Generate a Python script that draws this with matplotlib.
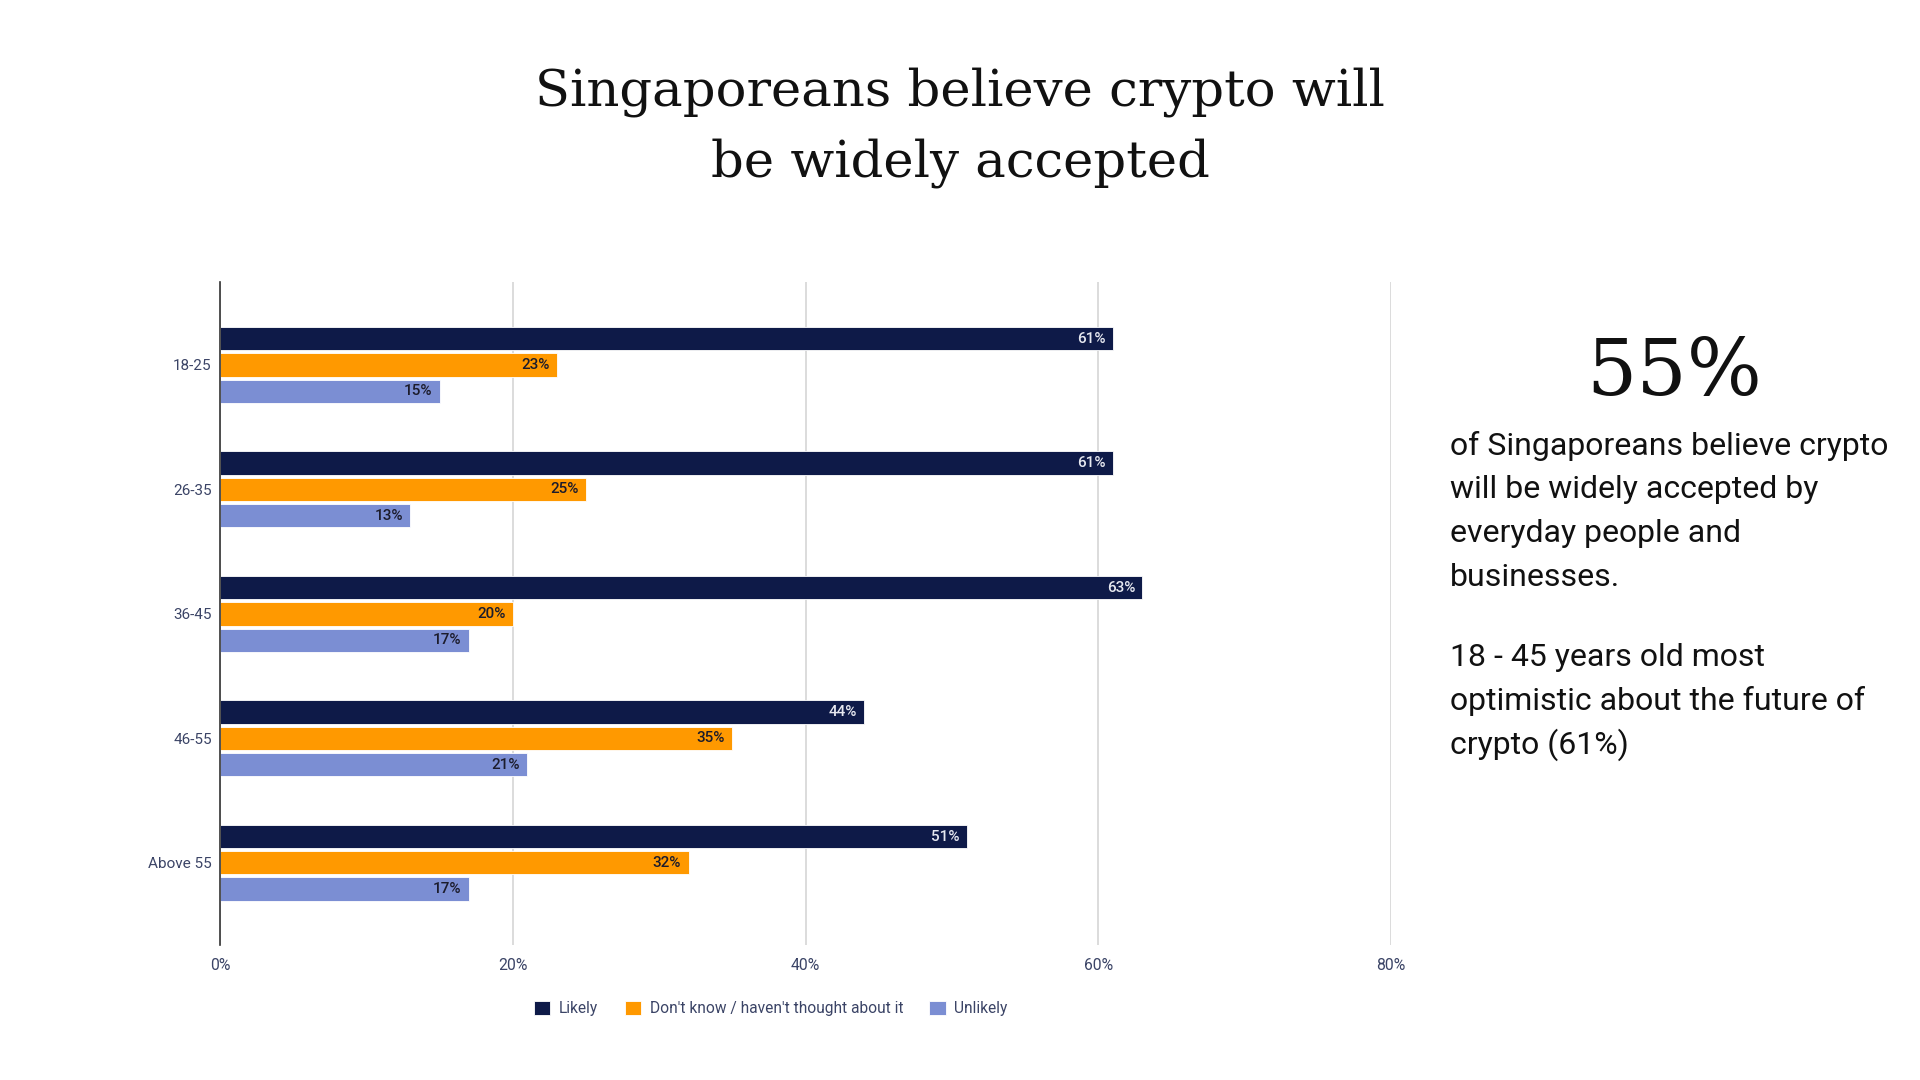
import matplotlib
matplotlib.use("Agg")
import matplotlib.pyplot as plt
import numpy as np

categories = ["18-25", "26-35", "36-45", "46-55", "Above 55"]
likely = [61, 61, 63, 44, 51]
dont_know = [23, 25, 20, 35, 32]
unlikely = [15, 13, 17, 21, 17]
series_names = ["Likely", "Don't know / haven't thought about it", "Unlikely"]
x_ticks = [0, 20, 40, 60, 80]
x_tick_labels = ["0%", "20%", "40%", "60%", "80%"]

colors = ["#0e1a48", "#ff9900", "#7b8ed3"]
label_colors = ["#e6e8f0", "#1c1c2c", "#1c1c2c"]
tick_color = "#3b4466"

fig = plt.figure(figsize=(19.2, 10.8), dpi=100)
ax = fig.add_axes([0.1146, 0.125, 0.610, 0.614])

y = np.arange(len(categories))
step = 0.211
height = 0.187
series = [likely, dont_know, unlikely]
for i, (vals, col, lc, name) in enumerate(zip(series, colors, label_colors, series_names)):
    pos = y + (i - 1) * step
    bars = ax.barh(pos, vals, height=height, color=col, label=name, zorder=3,
                   edgecolor="white", linewidth=0.6)
    for b, v in zip(bars, vals):
        ax.text(v - 0.5, b.get_y() + b.get_height() / 2, f"{v}%",
                ha="right", va="center", fontsize=11, color=lc,
                family="Roboto", fontweight="medium", zorder=4)

ax.set_xlim(0, 80)
ax.set_ylim(4.66, -0.667)
ax.set_yticks(y)
ax.set_yticklabels(categories, fontsize=11, color=tick_color, family="Roboto")
ax.set_xticks(x_ticks)
ax.set_xticklabels(x_tick_labels, fontsize=11.3, color=tick_color, family="Roboto")
ax.tick_params(axis="both", length=0, pad=6)
ax.tick_params(axis="x", pad=9)
ax.grid(axis="x", color="#d6d6d6", linewidth=1.2, zorder=0)
for s in ["top", "right", "bottom"]:
    ax.spines[s].set_visible(False)
ax.spines["left"].set_color("#333333")
ax.spines["left"].set_linewidth(1.2)
ax.spines["left"].set_zorder(5)

leg = fig.legend(loc="center", bbox_to_anchor=(0.4015, 0.066), ncol=3, frameon=False,
                 prop={"family": "Roboto", "size": 11.2}, handlelength=1.05,
                 handleheight=1.05, columnspacing=1.7, handletextpad=0.55)
for t in leg.get_texts():
    t.set_color(tick_color)

fig.text(0.5, 1 - 92 / 1080, "Singaporeans believe crypto will", ha="center", va="center",
         fontsize=36.9, family="DejaVu Serif", color="#111111")
fig.text(0.5, 1 - 163 / 1080, "be widely accepted", ha="center", va="center",
         fontsize=36.9, family="DejaVu Serif", color="#111111")

fig.text(1674 / 1920, 1 - 373 / 1080, "55%", ha="center", va="center",
         fontsize=57, family="DejaVu Serif", color="#111111")

para1 = ["of Singaporeans believe crypto", "will be widely accepted by",
         "everyday people and", "businesses."]
para2 = ["18 - 45 years old most", "optimistic about the future of", "crypto (61%)"]
for k, line in enumerate(para1):
    fig.text(1450 / 1920, 1 - (446 + 44 * k) / 1080, line, ha="left", va="center",
             fontsize=23, family="Roboto", color="#111111")
for k, line in enumerate(para2):
    fig.text(1450 / 1920, 1 - (657 + 44 * k) / 1080, line, ha="left", va="center",
             fontsize=23, family="Roboto", color="#111111")

fig.savefig("out.png", dpi=100, facecolor="white")
